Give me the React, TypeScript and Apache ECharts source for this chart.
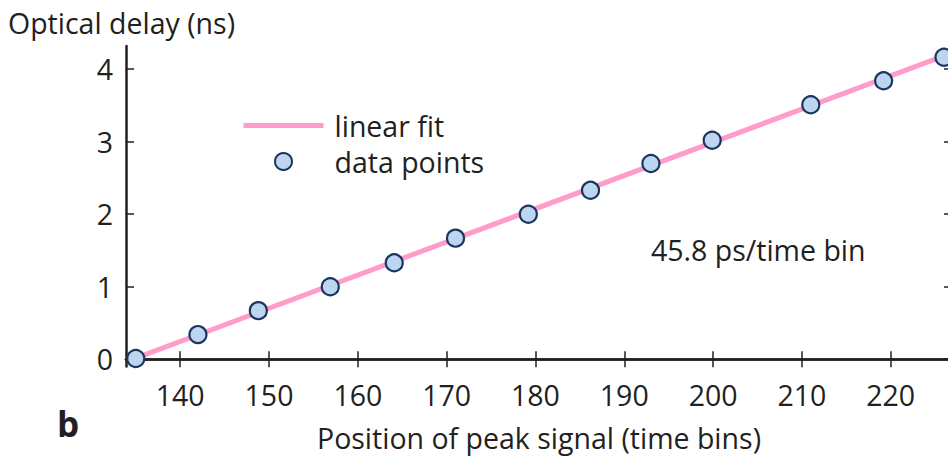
import React, { useEffect, useRef } from "react";
import * as echarts from "echarts";

// Peak positions (time bins) and measured optical delays (ns)
const peakPositions = [135, 142, 148.8, 156.9, 164.1, 171, 179.2, 186.2, 193, 199.9, 211, 219.2, 226];
const opticalDelays = [0.01, 0.34, 0.67, 1.0, 1.33, 1.67, 2.0, 2.33, 2.7, 3.02, 3.51, 3.84, 4.165];

// Linear fit: 45.8 ps per time bin
const fitSlopeNsPerBin = 0.0458;
const fitOffsetNs = 0.015; // delay at the first peak position
const fitRange = [135, 226];

const xTickValues = [140, 150, 160, 170, 180, 190, 200, 210, 220];
const yTickValues = [0, 1, 2, 3, 4];

const FONT = "Open Sans";
const FS = 28.5;
const INK = "#231f20";
const FIT_COLOR = "#ff9cca";

export default function App() {
  const ref = useRef<HTMLDivElement>(null);

  useEffect(() => {
    if (!ref.current) return;
    const chart = echarts.init(ref.current, undefined, { renderer: "svg" });

    const fitLine = fitRange.map((x) => [x, fitOffsetNs + fitSlopeNsPerBin * (x - fitRange[0])]);
    const points = peakPositions.map((x, i) => [x, opticalDelays[i]]);

    const xCommon = {
      type: "value" as const,
      min: 133.9,
      max: 226.9,
      splitLine: { show: false },
      axisLine: { show: true, lineStyle: { color: INK, width: 2.5 } },
      axisTick: { show: true, inside: true, length: 8, customValues: xTickValues, lineStyle: { color: INK, width: 1.5 } },
    };
    const yCommon = {
      type: "value" as const,
      min: -0.1,
      max: 4.32,
      splitLine: { show: false },
      axisLine: { show: true, lineStyle: { color: INK, width: 2.5 } },
      axisTick: { show: true, inside: true, length: 8, customValues: yTickValues, lineStyle: { color: INK, width: 1.5 } },
    };

    chart.setOption({
      animation: false,
      backgroundColor: "#ffffff",
      title: {
        text: "Optical delay (ns)",
        left: 8,
        top: 8,
        padding: 0,
        textStyle: { fontFamily: FONT, fontSize: FS, fontWeight: "normal", color: INK },
      },
      grid: { left: 126, top: 46, width: 826, height: 320.5, containLabel: false, outerBoundsMode: "none" },
      legend: {
        orient: "vertical",
        left: 241,
        top: 111,
        padding: 0,
        itemWidth: 80,
        itemHeight: 17,
        itemGap: 7,
        textStyle: { fontFamily: FONT, fontSize: FS, color: INK, padding: [0, 0, 0, 6] },
        data: [
          { name: "linear fit", itemStyle: { opacity: 0 }, lineStyle: { width: 5, color: FIT_COLOR } },
          { name: "data points" },
        ],
      },
      xAxis: [
        {
          ...xCommon,
          position: "bottom",
          name: "Position of peak signal (time bins)",
          nameLocation: "middle",
          nameGap: 57,
          nameTextStyle: { fontFamily: FONT, fontSize: FS, color: INK },
          axisLabel: { show: true, customValues: xTickValues, margin: 14, fontFamily: FONT, fontSize: FS, color: INK },
        },
        { ...xCommon, position: "top", axisLabel: { show: false } },
      ],
      yAxis: [
        {
          ...yCommon,
          position: "left",
          axisLabel: { show: true, customValues: yTickValues, margin: 13, fontFamily: FONT, fontSize: FS, color: INK },
        },
        { ...yCommon, position: "right", axisLabel: { show: false } },
      ],
      graphic: [
        {
          type: "text",
          x: 651,
          y: 250,
          style: { text: "45.8 ps/time bin", fontFamily: FONT, fontSize: FS, fill: INK, verticalAlign: "middle" },
        },
        {
          type: "text",
          x: 57,
          y: 423,
          style: { text: "b", fontFamily: FONT, fontSize: 35, fontWeight: "bold", fill: INK, verticalAlign: "middle" },
        },
      ],
      series: [
        {
          name: "linear fit",
          type: "line",
          data: fitLine,
          symbol: "none",
          lineStyle: { color: FIT_COLOR, width: 5 },
          itemStyle: { color: FIT_COLOR },
          z: 1,
        },
        {
          name: "data points",
          type: "scatter",
          data: points,
          symbol: "circle",
          symbolSize: 17,
          itemStyle: { color: "#bcd6f1", borderColor: "#1c355e", borderWidth: 2.2, opacity: 1 },
          z: 2,
        },
      ],
    });

    return () => chart.dispose();
  }, []);

  return (
    <div
      ref={ref}
      style={{ position: "fixed", left: 0, top: 0, width: 948, height: 458 }}
    />
  );
}
